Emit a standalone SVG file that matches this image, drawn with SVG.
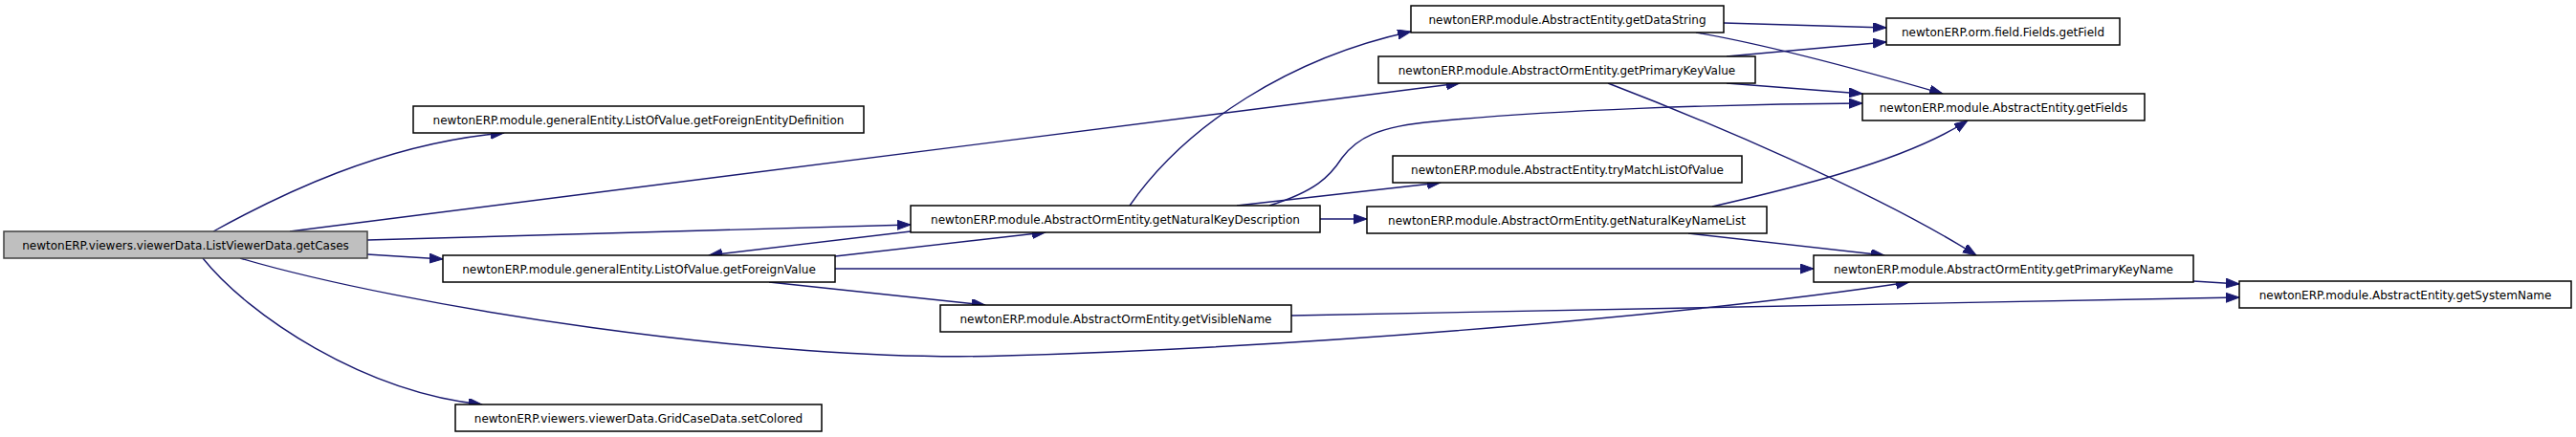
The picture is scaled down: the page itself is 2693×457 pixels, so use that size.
<svg xmlns="http://www.w3.org/2000/svg" width="2693" height="457" viewBox="0 0 2693 457">
<defs>
<marker id="arr" markerUnits="userSpaceOnUse" markerWidth="16" markerHeight="12" refX="14" refY="5" orient="auto">
<path d="M0,0 L14,5 L0,10 z" fill="#191970" stroke="#191970" stroke-width="1"/>
</marker>
<style>
.n rect{fill:#ffffff;stroke:#000000;stroke-width:1.5}
.n.root rect{fill:#bfbfbf;stroke:#404040}
.n text{font-family:"DejaVu Sans",sans-serif;font-size:12px;fill:#000000;text-anchor:middle}
#edges path{fill:none;stroke:#191970;stroke-width:1.4;marker-end:url(#arr)}
</style>
</defs>
<rect width="2693" height="457" fill="#ffffff"/>
<g id="edges">
<path d="M223,242 C290,205 400,150 527,139"/>
<path d="M303,242 L1526,87"/>
<path d="M384,251 C600,245 800,238 952,235"/>
<path d="M384,266 L463,271"/>
<path d="M251,270 C420,320 800,380 1050,372 C1400,362 1800,325 1996,295"/>
<path d="M212,270 C260,330 380,410 504,423"/>
<path d="M873,268 L1093,243"/>
<path d="M952,242 L741,267"/>
<path d="M873,281 L1896,281"/>
<path d="M804,295 L1030,319"/>
<path d="M1181,215 C1240,130 1350,60 1475,33"/>
<path d="M1327,215 C1375,200 1390,185 1403,165 C1418,145 1440,132 1500,127 C1620,115 1800,109 1947,108"/>
<path d="M1293,215 L1506,191"/>
<path d="M1380,229 L1429,229"/>
<path d="M1802,24 L1972,29"/>
<path d="M1773,34 C1820,42 1900,60 2031,98"/>
<path d="M1805,59 L1972,44"/>
<path d="M1805,87 L1947,98"/>
<path d="M1681,87 C1780,125 1960,200 2066,267"/>
<path d="M1790,216 C1860,200 1990,170 2057,126"/>
<path d="M1765,244 L1970,267"/>
<path d="M2293,294 L2341,297"/>
<path d="M1350,330 L2341,311"/>
</g>
<g id="n_getCases" class="n root"><rect x="4" y="242" width="380" height="28"/><text x="194" y="260.5">newtonERP.viewers.viewerData.ListViewerData.getCases</text></g>
<g id="n_getForeignEntityDefinition" class="n"><rect x="432" y="111" width="471" height="28"/><text x="667.5" y="129.5">newtonERP.module.generalEntity.ListOfValue.getForeignEntityDefinition</text></g>
<g id="n_getForeignValue" class="n"><rect x="463" y="267" width="410" height="28"/><text x="668" y="285.5">newtonERP.module.generalEntity.ListOfValue.getForeignValue</text></g>
<g id="n_setColored" class="n"><rect x="476" y="423" width="383" height="28"/><text x="667.5" y="441.5">newtonERP.viewers.viewerData.GridCaseData.setColored</text></g>
<g id="n_getNaturalKeyDescription" class="n"><rect x="952" y="215" width="428" height="28"/><text x="1166" y="233.5">newtonERP.module.AbstractOrmEntity.getNaturalKeyDescription</text></g>
<g id="n_getVisibleName" class="n"><rect x="983" y="319" width="367" height="28"/><text x="1166.5" y="337.5">newtonERP.module.AbstractOrmEntity.getVisibleName</text></g>
<g id="n_getDataString" class="n"><rect x="1475" y="6" width="327" height="28"/><text x="1638.5" y="24.5">newtonERP.module.AbstractEntity.getDataString</text></g>
<g id="n_getPrimaryKeyValue" class="n"><rect x="1441" y="59" width="394" height="28"/><text x="1638" y="77.5">newtonERP.module.AbstractOrmEntity.getPrimaryKeyValue</text></g>
<g id="n_tryMatchListOfValue" class="n"><rect x="1456" y="163" width="365" height="28"/><text x="1638.5" y="181.5">newtonERP.module.AbstractEntity.tryMatchListOfValue</text></g>
<g id="n_getNaturalKeyNameList" class="n"><rect x="1429" y="216" width="418" height="28"/><text x="1638" y="234.5">newtonERP.module.AbstractOrmEntity.getNaturalKeyNameList</text></g>
<g id="n_getField" class="n"><rect x="1972" y="19" width="244" height="28"/><text x="2094" y="37.5">newtonERP.orm.field.Fields.getField</text></g>
<g id="n_getFields" class="n"><rect x="1947" y="98" width="295" height="28"/><text x="2094.5" y="116.5">newtonERP.module.AbstractEntity.getFields</text></g>
<g id="n_getPrimaryKeyName" class="n"><rect x="1896" y="267" width="397" height="28"/><text x="2094.5" y="285.5">newtonERP.module.AbstractOrmEntity.getPrimaryKeyName</text></g>
<g id="n_getSystemName" class="n"><rect x="2341" y="294" width="347" height="28"/><text x="2514.5" y="312.5">newtonERP.module.AbstractEntity.getSystemName</text></g>
</svg>
